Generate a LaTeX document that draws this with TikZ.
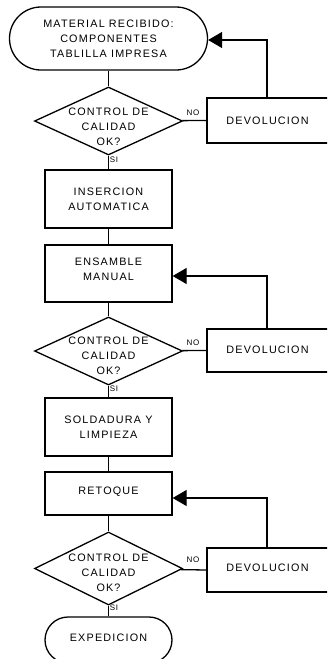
\documentclass[tikz,border=0pt]{standalone}
\usepackage{fontspec}
\setmainfont{Liberation Sans}[LetterSpace=11]
\usetikzlibrary{shapes.geometric,shapes.misc,arrows.meta}

\begin{document}
\begin{tikzpicture}[x=1pt,y=1pt,yscale=-1,xscale=1,
    line width=1.3pt,
    txt/.style={font=\fontsize{10.8}{15}\selectfont,align=center,inner sep=0.75pt},
    term/.style={draw,rounded rectangle,minimum width=127pt,minimum height=46pt,inner sep=0pt},
    proc/.style={draw,rectangle,minimum width=127pt,inner sep=0pt},
    decision/.style={draw,diamond,minimum width=148pt,inner sep=0pt},
    retbox/.style={draw,rectangle,minimum width=140pt,inner sep=0pt},
    tag/.style={font=\fontsize{8}{9}\selectfont,inner sep=0.75pt},
    back/.style={-{Triangle[length=14pt,width=16pt]}}]
    \useasboundingbox (0,0) rectangle (327,659);
    \clip (0,0) rectangle (327,659);
    \coordinate (rx) at (267,0);

    %Shape: Terminal (start)
    \node [term,minimum width=198pt,minimum height=63pt] (start) at (108.5,38.5) {};
    \node [txt] (startt) at (start) {MATERIAL RECIBIDO:\\COMPONENTES\\TABLILLA IMPRESA};
    %Shape: Diamond
    \node [decision,minimum height=68pt] (q1) at (108.5,121) {};
    \node [txt] (q1t) at (108.5,127) {CONTROL DE\\CALIDAD\\OK?};
    %Shape: Rectangle
    \node [retbox,minimum height=45pt] (dev1) at (277,120.5) {};
    \node [txt] (dev1t) at (267.5,120.5) {DEVOLUCION};

    %Shape: Rectangle
    \node [proc,minimum height=58pt] (ins) at (108.5,199) {};
    \node [txt] (inst) at (ins) {INSERCION\\AUTOMATICA};
    %Shape: Rectangle
    \node [proc,minimum height=57pt] (ens) at (108.5,273.5) {};
    \node [txt] (enst) at (108.5,269) {ENSAMBLE\\MANUAL};
    %Shape: Diamond
    \node [decision,minimum height=68pt] (q2) at (108.5,351) {};
    \node [txt] (q2t) at (108.5,356) {CONTROL DE\\CALIDAD\\OK?};
    %Shape: Rectangle
    \node [retbox,minimum height=43pt] (dev2) at (277,350.5) {};
    \node [txt] (dev2t) at (267.5,350) {DEVOLUCION};

    %Shape: Rectangle
    \node [proc,minimum height=58pt] (sol) at (108.5,427) {};
    \node [txt] (solt) at (sol) {SOLDADURA Y\\LIMPIEZA};
    %Shape: Rectangle
    \node [proc,minimum height=43pt] (ret) at (108.5,493.5) {};
    \node [txt] (rett) at (108.5,492) {RETOQUE};
    %Shape: Diamond
    \node [decision,minimum height=73pt] (q3) at (108.5,568.5) {};
    \node [txt] (q3t) at (108.5,573) {CONTROL DE\\CALIDAD\\OK?};
    %Shape: Rectangle
    \node [retbox,minimum height=44pt] (dev3) at (277,570) {};
    \node [txt] (dev3t) at (267.5,568) {DEVOLUCION};
    %Shape: Terminal (end)
    \node [term] (fin) at (108.5,640) {};
    \node [txt] (fint) at (108.5,638) {EXPEDICION};

    %Straight Lines
    \draw (start) -- (q1);
    \draw (q1) -- (ins);
    \draw (ins) -- (ens);
    \draw (ens) -- (q2);
    \draw (q2) -- (sol);
    \draw (sol) -- (ret);
    \draw (ret) -- (q3);
    \draw (q3) -- (fin);
    \draw (q1) -- (dev1.west);
    \draw (q2) -- (dev2.west);
    \draw (q3) -- (dev3.west);

    %Return Lines
    \coordinate (in1) at (start.east |- 0,40);
    \coordinate (in2) at (ens.east |- 0,276);
    \coordinate (in3) at (ret.east |- 0,498);
    \draw [back] (dev1.north -| rx) |- (in1);
    \draw [back] (dev2.north -| rx) |- (in2);
    \draw [back] (dev3.north -| rx) |- (in3);

    % Text Node
    \node [tag] (no1) at (193,113) {NO};
    \node [tag] (si1) at (114,160) {SI};
    \node [tag] (no2) at (193,343) {NO};
    \node [tag] (si2) at (114,389) {SI};
    \node [tag] (no3) at (193,560) {NO};
    \node [tag] (si3) at (114,608) {SI};
\end{tikzpicture}
\end{document}
